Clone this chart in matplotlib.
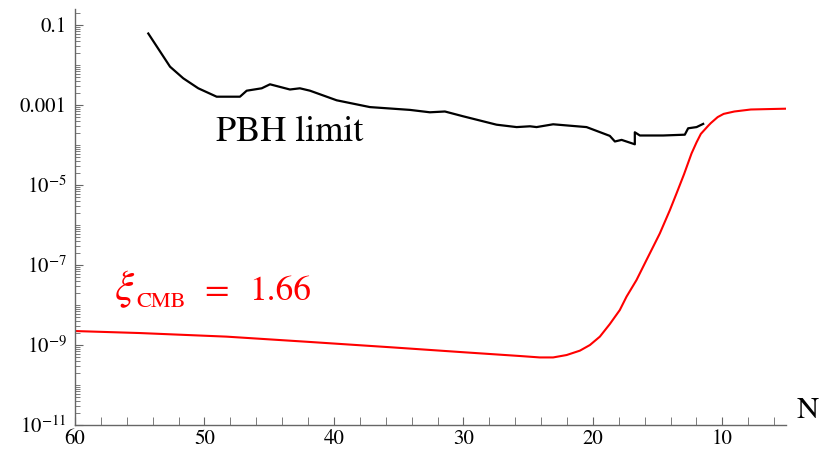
import matplotlib
matplotlib.use("Agg")
import matplotlib.pyplot as plt
import matplotlib.ticker as mticker
import numpy as np

plt.rcParams['font.family'] = ['STIXGeneral', 'DejaVu Serif']
plt.rcParams['mathtext.fontset'] = 'stix'

# PBH limit (N, log10 value)
pbh_n = [54.34, 52.66, 51.64, 50.48, 49.06, 47.26, 46.74, 45.58, 44.94, 43.40,
         42.63, 41.85, 39.79, 37.22, 34.13, 32.59, 31.43, 30.02, 27.44, 25.89,
         24.86, 24.35, 23.07, 20.49, 18.69, 18.30, 17.78, 16.76, 16.76, 16.37,
         14.57, 12.90, 12.64, 11.99, 11.48]
pbh_log = [-1.21, -2.04, -2.33, -2.58, -2.79, -2.79, -2.64, -2.58, -2.48, -2.61,
           -2.58, -2.64, -2.88, -3.05, -3.12, -3.18, -3.16, -3.28, -3.49, -3.55,
           -3.53, -3.55, -3.48, -3.55, -3.77, -3.91, -3.87, -3.98, -3.68, -3.76,
           -3.76, -3.74, -3.58, -3.55, -3.47]

# power spectrum for xi_CMB = 1.66
xi_n = [60.0, 55.0, 48.29, 42.0, 35.42, 30.0, 25.6, 24.1, 23.07, 22.03,
        21.0, 20.23, 19.46, 18.69, 17.92, 17.4, 16.63, 15.86, 15.34, 14.83,
        14.05, 13.54, 12.96, 12.38, 11.99, 11.66, 11.1, 10.89, 10.36, 9.9,
        9.07, 7.8, 6.49, 5.1]
xi_log = [-8.65, -8.70, -8.79, -8.92, -9.06, -9.18, -9.275, -9.31, -9.31, -9.25,
          -9.14, -9.0, -8.79, -8.475, -8.125, -7.79, -7.375, -6.875, -6.54, -6.21,
          -5.625, -5.21, -4.73, -4.21, -3.93, -3.72, -3.52, -3.45, -3.30, -3.22,
          -3.16, -3.11, -3.10, -3.09]

y_ticks = [1e-1, 1e-3, 1e-5, 1e-7, 1e-9, 1e-11]
y_labels = ['0.1', '0.001', r'$10^{-5}$', r'$10^{-7}$', r'$10^{-9}$', r'$10^{-11}$']
x_ticks = [60, 50, 40, 30, 20, 10]

W, H = 828, 451
fig = plt.figure(figsize=(W / 100, H / 100), dpi=100)
ax = fig.add_axes([0.0906, 0.0576, 0.8584, 0.922])

ax.semilogy(pbh_n, 10 ** np.array(pbh_log), color='black', lw=1.6)
ax.semilogy(xi_n, 10 ** np.array(xi_log), color='#ff0000', lw=1.5)

ax.set_xlim(60, 5.1)
ax.set_ylim(1e-11, 0.25)

ax.spines['top'].set_visible(False)
ax.spines['right'].set_visible(False)
for s in ('left', 'bottom'):
    ax.spines[s].set_color('#666666')
    ax.spines[s].set_linewidth(1.0)

ax.yaxis.set_major_locator(mticker.FixedLocator(y_ticks))
ax.yaxis.set_major_formatter(mticker.FixedFormatter(y_labels))
ax.yaxis.set_minor_locator(mticker.LogLocator(base=10, subs=np.arange(1, 10), numticks=30))
ax.yaxis.set_minor_formatter(mticker.NullFormatter())

ax.xaxis.set_major_locator(mticker.FixedLocator(x_ticks))
ax.xaxis.set_minor_locator(mticker.MultipleLocator(2))

ax.tick_params(which='both', direction='in', color='#666666', labelsize=15)
ax.tick_params(which='major', length=6, width=0.8)
ax.tick_params(which='minor', length=3.5, width=0.6)
ax.tick_params(axis='x', which='minor', length=6)
ax.tick_params(axis='x', pad=3)
ax.tick_params(axis='y', pad=6)

ax.text(1.015, 0.0, 'N', transform=ax.transAxes, fontsize=22, ha='left', va='bottom')

# labels placed in figure pixels (x from left, baseline y from bottom)
def label(x, y, s, size, color='black'):
    fig.text(x / W, y / H, s, fontsize=size, color=color, ha='left', va='baseline')

label(216, 310, 'PBH limit', 26)
label(114, 151, r'$\xi$', 31, '#ff0000')
label(136, 144, 'CMB', 16, '#ff0000')
label(204, 151, '=', 25.5, '#ff0000')
label(249, 151, '1.66', 25.5, '#ff0000')

fig.savefig('out.png', dpi=100)
